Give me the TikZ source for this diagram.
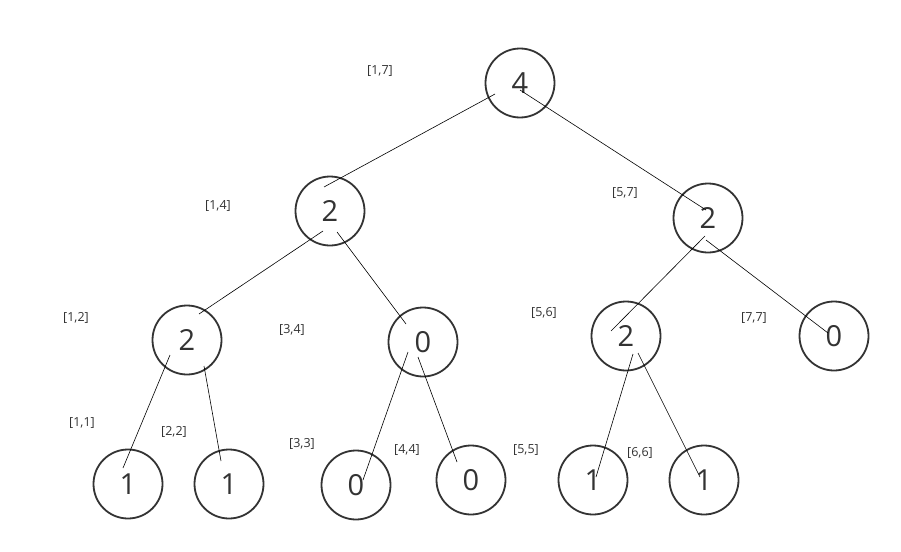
\documentclass[tikz,border=0pt]{standalone}
\usepackage{fontspec}
\setmainfont{Open Sans}
\usepackage{tikz}
\usetikzlibrary{calc}

\begin{document}
\begin{tikzpicture}[x=1pt, y=-1pt,
    seg/.style={circle, draw=black!80, line width=1.8pt, minimum size=69pt, inner sep=0pt,
                text=black!80, font=\fontsize{29}{30}\selectfont},
    rangelabel/.style={text=black!80, font=\fontsize{12.5}{14}\selectfont},
    edge/.style={line width=0.6pt}]
    \useasboundingbox[fill=white] (0,0) rectangle (901,551);
    % Tree nodes (sum of interval)
    \node[seg] (n17) at (520,83) {4};
    \node[seg] (n14) at (330,211) {2};
    \node[seg] (n57) at (708,218) {2};
    \node[seg] (n12) at (187,340) {2};
    \node[seg] (n34) at (423,342) {0};
    \node[seg] (n56) at (626,336) {2};
    \node[seg] (n77) at (834,336) {0};
    \node[seg] (n11) at (128,484) {1};
    \node[seg] (n22) at (229,484) {1};
    \node[seg] (n33) at (356,485) {0};
    \node[seg] (n44) at (471,480) {0};
    \node[seg] (n55) at (593,480) {1};
    \node[seg] (n66) at (704,480) {1};
    % Interval labels
    \node[rangelabel] (l17) at (380,71) {[1,7]};
    \node[rangelabel] (l14) at (218,206) {[1,4]};
    \node[rangelabel] (l57) at (625,193) {[5,7]};
    \node[rangelabel] (l12) at (76,318) {[1,2]};
    \node[rangelabel] (l34) at (292,330) {[3,4]};
    \node[rangelabel] (l56) at (544,313) {[5,6]};
    \node[rangelabel] (l77) at (754,318) {[7,7]};
    \node[rangelabel] (l11) at (82,423) {[1,1]};
    \node[rangelabel] (l22) at (174,432) {[2,2]};
    \node[rangelabel] (l33) at (302,444) {[3,3]};
    \node[rangelabel] (l44) at (407,450) {[4,4]};
    \node[rangelabel] (l55) at (526,450) {[5,5]};
    \node[rangelabel] (l66) at (640,453) {[6,6]};
    % Edges, hand-placed ends inside the circles
    \draw[edge] ([shift={(-25,11)}]n17.center) -- ([shift={(-6,-24)}]n14.center);
    \draw[edge] ([shift={(0,7)}]n17.center) -- ([shift={(-2,-8)}]n57.center);
    \draw[edge] ([shift={(-7,20)}]n14.center) -- ([shift={(12,-26)}]n12.center);
    \draw[edge] ([shift={(7,21)}]n14.center) -- ([shift={(-17,-18)}]n34.center);
    \draw[edge] ([shift={(-17,15)}]n12.center) -- ([shift={(-5,-16)}]n11.center);
    \draw[edge] ([shift={(17,26)}]n12.center) -- ([shift={(-8,-23)}]n22.center);
    \draw[edge] ([shift={(-15,10)}]n34.center) -- ([shift={(7,-5)}]n33.center);
    \draw[edge] ([shift={(-5,15)}]n34.center) -- ([shift={(-14,-18)}]n44.center);
    \draw[edge] ([shift={(-3,18)}]n57.center) -- ([shift={(-15,-5)}]n56.center);
    \draw[edge] ([shift={(-2,22)}]n57.center) -- ([shift={(-6,-3)}]n77.center);
    \draw[edge] ([shift={(7,18)}]n56.center) -- ([shift={(3,-3)}]n55.center);
    \draw[edge] ([shift={(12,17)}]n56.center) -- ([shift={(-4,-3)}]n66.center);
\end{tikzpicture}
\end{document}
